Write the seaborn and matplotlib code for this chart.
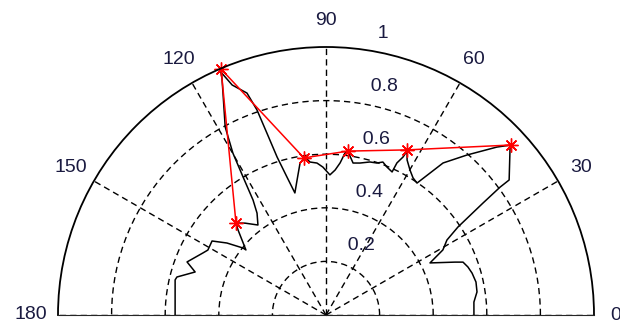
import numpy as np
import seaborn as sns
import matplotlib
matplotlib.use('Agg')
import matplotlib.pyplot as plt
from matplotlib.transforms import offset_copy

# measured pattern (black), angle in degrees, normalised radius
pattern_deg = [180, 166.9, 165.7, 161.8, 159.1, 153.2, 151.2, 147.0, 144.0, 141.1,
               140.9, 136.0, 134.4, 131.4, 127.1, 124.1, 122.4, 121.0, 119.9, 118.2,
               114.9, 113.7, 113.4, 112.2, 109.6, 108.6, 108.0, 107.2, 105.8, 104.3,
               102.1, 99.7, 97.6, 96.0, 93.4, 91.2, 88.4, 86.4, 84.7, 83.3,
               82.4, 81.0, 79.9, 77.4, 74.0, 71.5, 69.6, 67.6, 65.2, 65.0,
               64.0, 63.7, 62.4, 59.9, 57.6, 55.4, 52.4, 48.6, 44.5, 42.6,
               42.2, 36.4, 36.3, 35.5, 33.7, 31.8, 29.1, 26.6, 22.3, 21.1,
               18.7, 16.0, 12.4, 8.7, 5.0, 0]
pattern_r = [0.563, 0.578, 0.574, 0.514, 0.555, 0.514, 0.503, 0.507, 0.457, 0.398,
             0.385, 0.456, 0.480, 0.457, 0.421, 0.459, 0.508, 0.601, 0.697, 0.796,
             0.913, 0.966, 0.988, 0.927, 0.879, 0.807, 0.714, 0.617, 0.535, 0.470,
             0.515, 0.575, 0.595, 0.574, 0.568, 0.552, 0.523, 0.542, 0.570, 0.609,
             0.617, 0.593, 0.576, 0.581, 0.594, 0.598, 0.609, 0.597, 0.588, 0.626,
             0.656, 0.683, 0.653, 0.625, 0.606, 0.598, 0.716, 0.796, 0.894, 0.937,
             0.927, 0.849, 0.806, 0.720, 0.592, 0.531, 0.499, 0.434, 0.520, 0.548,
             0.559, 0.567, 0.573, 0.570, 0.554, 0.552]

# red peaks
peak_deg = [134.4, 113.1, 98.0, 82.4, 63.9, 42.6]
peak_r = [0.480, 0.998, 0.592, 0.617, 0.686, 0.937]

theta_ticks = [0, 30, 60, 90, 120, 150, 180]
r_ticks = [0.2, 0.4, 0.6, 0.8, 1.0]
r_labels = ['0.2', '0.4', '0.6', '0.8', '1']

sns.set_style('white')
plt.rcParams['font.family'] = ['Liberation Sans', 'DejaVu Sans']
txt_color = '#1a1a40'

fig = plt.figure(figsize=(6.2, 3.24), dpi=100)
# half-disc sits in the upper part of a square box; centre at (326, 315) px, radius 268 px
ax = fig.add_axes([58 / 620, (324 - 449) / 324, 536 / 620, 536 / 324], projection='polar')

sns.lineplot(x=np.deg2rad(pattern_deg), y=pattern_r, ax=ax, sort=False,
             estimator=None, color='black', linewidth=1.1)
sns.lineplot(x=np.deg2rad(peak_deg), y=peak_r, ax=ax, sort=False,
             estimator=None, color='red', linewidth=1.1,
             marker=(8, 2, 0), markersize=10, markeredgecolor='red',
             markeredgewidth=1.0, clip_on=False)

ax.set_thetamin(0)
ax.set_thetamax(180)
ax.set_ylim(0, 1)
ax.set_xticks(np.deg2rad(theta_ticks))
ax.set_xticklabels([])
ax.set_yticks(r_ticks[:-1])
ax.set_yticklabels([])
ax.grid(True, color='black', linestyle=(0, (4.5, 3.0)), linewidth=1.0)
ax.spines['start'].set_visible(False)
ax.spines['end'].set_visible(False)
ax.spines['inner'].set_visible(False)
ax.spines['polar'].set_color('black')
ax.spines['polar'].set_linewidth(1.3)
ax.set_xlabel('')
ax.set_ylabel('')

for t in theta_ticks:
    rr = 1.08 if t == 0 else 1.1
    ax.text(np.deg2rad(t), rr, str(t), ha='center', va='center',
            fontsize=14, color=txt_color, clip_on=False)

shift = offset_copy(ax.transData, fig=fig, x=4, y=8, units='dots')
for r, lab in zip(r_ticks, r_labels):
    ax.text(np.deg2rad(82), r, '  ' + lab, ha='left', va='bottom',
            fontsize=14, color=txt_color, transform=shift, clip_on=False)

plt.savefig('out.png', dpi=100)
